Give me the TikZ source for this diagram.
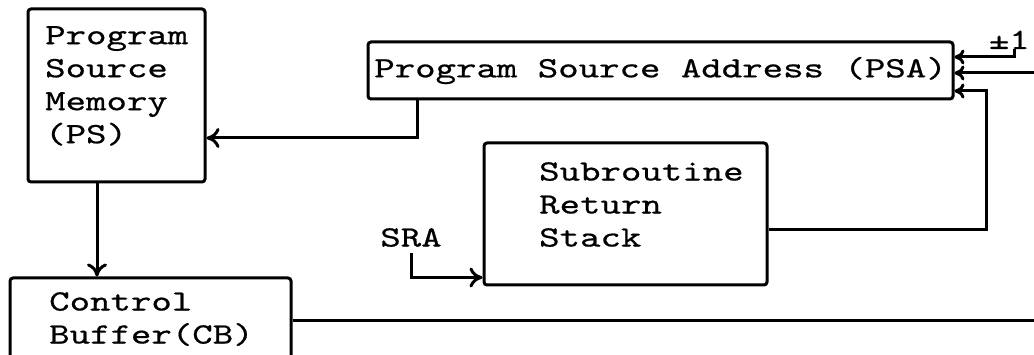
\documentclass[tikz,border=0pt]{standalone}
\usepackage{fontspec}
\usepackage{tikz}
\usetikzlibrary{positioning,calc}
\usetikzlibrary{arrows.meta}
\newfontfamily\macchina{lmmono10-regular.otf}[FakeStretch=1.32,FakeBold=0.6]
\tikzstyle{blocco} = [rectangle, rounded corners=3pt, line width=3pt, draw=black]
\tikzstyle{testo} = [inner sep=0pt, align=left, font=\macchina\fontsize{29.5pt}{33pt}\selectfont]
\tikzstyle{linea} = [line width=3pt]
\tikzstyle{arrow} = [line width=3pt,-{To[length=13pt,width=20pt]}]
\tikzstyle{arrowpsa} = [line width=3pt,-{To[length=10pt,width=15pt]}]

\begin{document}
\begin{tikzpicture}[x=1pt,y=-1pt]
	\useasboundingbox (0,0) rectangle (1034,355);
	\node (ps) at (116.5,95.5) [blocco, minimum width=177pt, minimum height=173pt] {};
	\node[testo, anchor=north west] (pst) at (45,26) {Program\\Source\\Memory\\(PS)};
	\node (cb) at (150.5,324) [blocco, minimum width=281pt, minimum height=92pt] {};
	\node[testo, anchor=north west] (cbt) at (49,292) {Control\\Buffer(CB)};
	\node (psa) at (660.5,70.5) [blocco, testo, minimum width=585pt, minimum height=57pt] {Program Source Address (PSA)};
	\node (srs) at (625.5,214) [blocco, minimum width=283pt, minimum height=142pt] {};
	\node[testo, anchor=north west] (srst) at (539,162) {Subroutine\\Return\\Stack};
	\node[testo] (sra) at (411,237.5) {SRA};
	\node[testo, anchor=base east] (pm) at (1030,49) {±1};
	\coordinate (pmin) at (1014,49);
	\coordinate (inc) at (1034,73);
	\coordinate (ret) at (986,91);
	\coordinate (cbout) at (1034,321);
	\draw[arrow] ([xshift=51pt]psa.south west) |- ([yshift=-42.5pt]ps.east);
	\draw[arrow] ([xshift=-19.5pt]ps.south) -- ([xshift=-53.5pt]cb.north);
	\draw[arrow] ([yshift=-6pt]sra.south) |- ([yshift=9pt]srs.south west);
	\draw[arrowpsa] ([yshift=-16pt]srs.east) -| (ret) -- (psa.east |- ret);
	\draw[arrowpsa] (pmin) |- ([yshift=13.5pt]psa.east);
	\draw[arrowpsa] (inc) -- (psa.east |- inc);
	\draw[linea] (cb.east |- cbout) -- (cbout);
\end{tikzpicture}
\end{document}
